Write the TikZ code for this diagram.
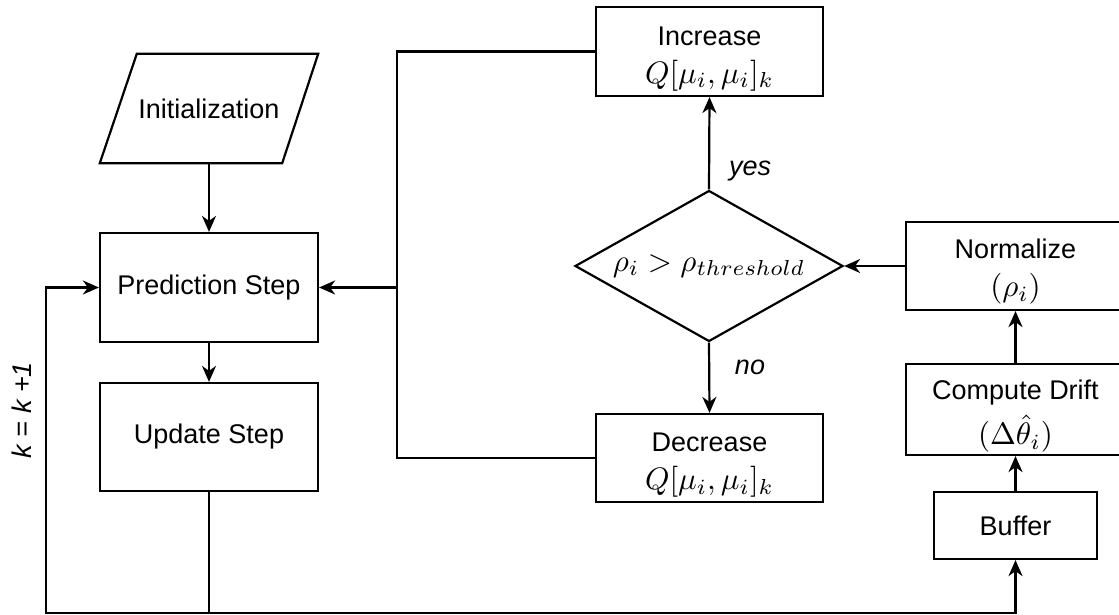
\documentclass[tikz,border=0pt]{standalone}
\usepackage{graphicx}
\usepackage{fontspec}
\setmainfont{Liberation Sans}
\usetikzlibrary{shapes.geometric,arrows.meta}
\newcommand\mth[1]{\scalebox{3.1}{\fontsize{10}{12}\selectfont$#1$}}
\newcommand\tstrut[1]{\rule{0pt}{#1}}
\begin{document}
\begin{tikzpicture}[x=1pt,y=-1pt,
  every node/.style={font=\fontsize{27}{38}\selectfont, inner sep=0pt, align=center},
  ln/.style={line width=2.2pt},
  arr/.style={ln, -{Stealth[length=16pt,width=14pt,inset=5pt]}},
  blk/.style={draw, ln, rectangle, inner sep=0pt},
  lbl/.style={font=\fontsize{27}{32}\selectfont\itshape}]
\clip (0,0) rectangle (1119,615);
\fill[white] (0,0) rectangle (1119,615);
% nodes
\node (init) at (209,108.5) [minimum width=218, minimum height=109] {Initialization};
\draw[ln] ([xshift=37pt]init.north west) -- (init.north east) -- ([xshift=-36pt]init.south east) -- (init.south west) -- cycle;
\node[blk, minimum width=218, minimum height=109] (pred) at (209,287.5) {Prediction Step};
\node[blk, minimum width=218, minimum height=108] (upd) at (209,437) {Update Step};
\node[blk, minimum width=227, minimum height=89] (inc) at (709.5,51.5) {\tstrut{33pt}Increase\\[0pt]\mth{Q[\mu_i,\mu_i]_k}};
\node[blk, minimum width=227, minimum height=88] (dec) at (709.5,458) {\tstrut{33pt}Decrease\\[0pt]\mth{Q[\mu_i,\mu_i]_k}};
\node[draw, ln, diamond, aspect=1.775, minimum width=268, minimum height=151] (dia) at (709,266) {\mth{\rho_i > \rho_{threshold}}};
\node[blk, minimum width=219, minimum height=88] (norm) at (1015.5,266) {\tstrut{31pt}Normalize\\[0pt]\mth{(\rho_i)}};
\node[blk, minimum width=219, minimum height=91] (drift) at (1015.5,409.5) {\tstrut{33pt}Compute Drift\\[7pt]\mth{(\Delta\hat{\theta}_i)}};
\node[blk, minimum width=163, minimum height=67] (buf) at (1015.5,525.5) {Buffer};
% labels
\node[lbl] (yes) at (750,171) {yes};
\node[lbl] (no) at (750,367) {no};
\node[lbl, rotate=90] (kk) at (22,410) {k = k +1};
% coordinates
\coordinate (bl) at (46,613);
\coordinate (br) at (buf.south |- bl);
\coordinate (j) at (397,287.5);
% connectors
\draw[arr] (init.south) -- (pred.north);
\draw[arr] (pred.south) -- (upd.north);
\draw[arr] (upd.south) |- (bl) |- (pred.west);
\draw[arr] (upd.south) |- (br) -- (buf.south);
\draw[arr] (buf.north) -- (drift.south);
\draw[arr] (drift.north) -- (norm.south);
\draw[arr] (norm.west) -- (dia.east);
\draw[arr] (dia.north) -- (inc.south);
\draw[arr] (dia.south) -- (dec.north);
\draw[ln] (inc.west) -| (j) |- (dec.west);
\draw[arr] (j) -- (pred.east);
\end{tikzpicture}
\end{document}
